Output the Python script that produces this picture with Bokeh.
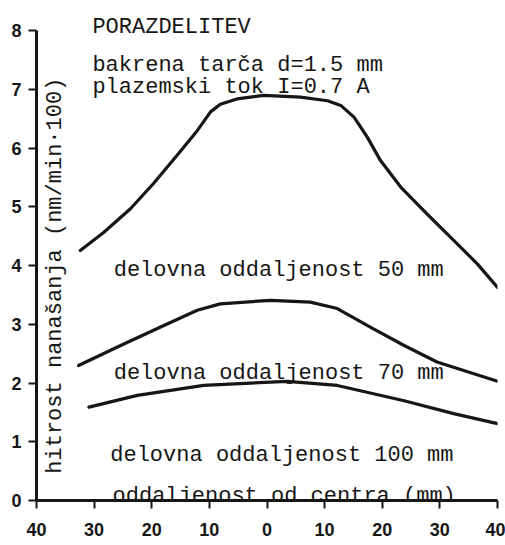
import math
from bokeh.plotting import figure
from bokeh.models import Range1d, FixedTicker, Label
from bokeh.embed import file_html
from bokeh.resources import INLINE

# distance from centre (mm), deposition rate (nm/min*100)
x_50 = [-32.4, -28.3, -23.7, -19.7, -15.6, -12.1, -9.8, -8.1, -5.2, -0.6,
        5.8, 10.5, 12.8, 15.1, 17.4, 19.7, 23.2, 27.8, 32.4, 36.5, 40.0]
y_50 = [4.26, 4.57, 4.97, 5.40, 5.88, 6.30, 6.62, 6.75, 6.84, 6.90,
        6.87, 6.81, 6.73, 6.53, 6.19, 5.79, 5.34, 4.88, 4.43, 4.03, 3.63]

x_70 = [-32.7, -25.4, -17.9, -12.1, -8.1, 0.6, 7.5, 12.2, 18.0, 23.8, 29.5, 40.0]
y_70 = [2.30, 2.64, 2.98, 3.24, 3.35, 3.41, 3.38, 3.27, 2.95, 2.64, 2.36, 2.03]

x_100 = [-30.9, -22.5, -11.0, 3.5, 12.2, 23.8, 32.4, 40.0]
y_100 = [1.59, 1.79, 1.96, 2.03, 1.96, 1.70, 1.48, 1.31]

x_ticks = [-40, -30, -20, -10, 0, 10, 20, 30, 40]
x_tick_labels = ["40", "30", "20", "10", "0", "10", "20", "30", "40"]
y_ticks = [0, 1, 2, 3, 4, 5, 6, 7, 8]

title_lines = ["PORAZDELITEV", "bakrena tarča d=1.5 mm", "plazemski tok I=0.7 A"]
curve_labels = ["delovna oddaljenost 50 mm", "delovna oddaljenost 70 mm", "delovna oddaljenost 100 mm"]
x_title = "oddaljenost od centra (mm)"
y_title = "hitrost nanašanja (nm/min·100)"

INK = "#161616"
MONO = "Liberation Mono"

p = figure(width=505, height=545, output_backend="svg", toolbar_location=None,
           x_range=Range1d(-40, 40), y_range=Range1d(0, 8.5),
           min_border_left=36, min_border_right=8, min_border_top=1, min_border_bottom=45)
p.outline_line_color = None
p.grid.visible = False
p.background_fill_color = "white"
p.border_fill_color = "white"

for ax in (p.xaxis[0], p.yaxis[0]):
    ax.axis_line_width = 3
    ax.axis_line_color = INK
    ax.major_tick_line_color = INK
    ax.major_tick_line_width = 2
    ax.major_tick_out = 8
    ax.major_tick_in = 0
    ax.minor_tick_line_color = None
    ax.major_label_text_font = "Liberation Sans"
    ax.major_label_text_font_style = "bold"
    ax.major_label_text_font_size = "18px"
    ax.major_label_text_color = INK

p.xaxis.ticker = FixedTicker(ticks=x_ticks)
p.xaxis.major_label_overrides = {t: l for t, l in zip(x_ticks, x_tick_labels)}
p.xaxis.major_label_standoff = 14
p.yaxis.ticker = FixedTicker(ticks=y_ticks)
p.yaxis.bounds = (0, 8)
p.yaxis.major_label_standoff = 7

for xs, ys in ((x_50, y_50), (x_70, y_70), (x_100, y_100)):
    p.line(xs, ys, line_width=3.2, line_color=INK, line_join="round", line_cap="round")

def lab(text, x, y, **kw):
    p.add_layout(Label(x=x, y=y, text=text, text_font=MONO, text_font_size="22px",
                       text_color=INK, text_baseline="alphabetic", **kw))

lab(title_lines[0], -30.3, 8.06)
lab(title_lines[1], -30.3, 7.41)
lab(title_lines[2], -30.3, 7.04)
lab(curve_labels[0], -26.6, 3.92)
lab(curve_labels[1], -26.6, 2.16)
lab(curve_labels[2], -27.2, 0.77)
lab(x_title, -26.8, 0.06)

p.add_layout(Label(x=-36.7, y=3.83, text=y_title, angle=math.pi / 2,
                   text_font=MONO, text_font_size="22px", text_color=INK,
                   text_align="center", text_baseline="middle"))

open("out.html", "w").write(file_html(p, INLINE))
